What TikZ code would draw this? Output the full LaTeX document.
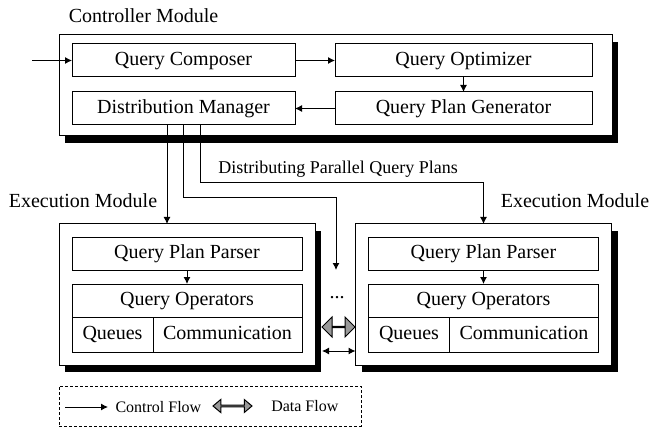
\documentclass[tikz,border=0pt]{standalone}
\usepackage{fontspec}
\setmainfont{Liberation Serif}
\usetikzlibrary{positioning}
\usetikzlibrary{calc}
\usetikzlibrary{shadows}
\usetikzlibrary{shapes.arrows}
\usepgflibrary{arrows.meta}

\tikzset{
  module/.style={draw, fill=white, inner sep=0pt, outer sep=0pt, drop shadow={shadow xshift=3pt, shadow yshift=-3.5pt, fill=black, opacity=1}},
  part/.style={draw, fill=white, inner sep=0pt, outer sep=0pt, minimum height=16.5pt, text height=0.7em, text depth=0.22em, font=\fontsize{10}{12}\selectfont},
  modtitle/.style={inner sep=0pt, font=\fontsize{10}{12}\selectfont},
  flow/.style={draw, -{Latex[length=3.5pt, width=3.5pt]}},
  dataflow/.style={double arrow, draw, fill=gray!80, inner sep=0pt, minimum width=10pt, double arrow head extend=3.25pt},
  legendtext/.style={inner sep=0pt, font=\fontsize{8}{10}\selectfont},
}

\begin{document}
\begin{tikzpicture}[x=0.5pt, y=-0.5pt, line width=0.5pt]
    \useasboundingbox (0, 0) rectangle (663, 427);
    % controller module
    \node[module, minimum width=276.5pt, minimum height=50.5pt] (controller) at (335.5, 85.5) {};
    \node[modtitle] (controllertitle) at (143.5, 16) {Controller Module};
    \node[part, minimum width=111.5pt] (composer) at (183.5, 60.5) {Query Composer};
    \node[part, minimum width=128.5pt] (optimizer) at (463.5, 60.5) {Query Optimizer};
    \node[part, minimum width=128.5pt] (generator) at (463.5, 108.5) {Query Plan Generator};
    \node[part, minimum width=111.5pt] (manager) at (183.5, 108.5) {Distribution Manager};
    \coordinate (input) at (32, 60.5);
    \path[flow] (input) -- (composer);
    \path[flow] (composer) -- (optimizer);
    \path[flow] (optimizer) -- (generator);
    \path[flow] (generator) -- (manager);
    % execution modules
    \foreach \m/\cx/\tx in {L/187/83, R/483.5/575} {
        \node[module, minimum width=128pt, minimum height=70.5pt] (exec\m) at (\cx, 294.5) {};
        \node[modtitle] (exectitle\m) at (\tx, 201) {Execution Module};
        \node[part, minimum width=115pt] (parser\m) at (\cx, 253.5) {Query Plan Parser};
        \node[part, minimum width=115pt] (ops\m) at (\cx, 300.5) {Query Operators};
        \node[part, minimum width=40.5pt, minimum height=17.5pt, anchor=north west] (queues\m) at (ops\m.south west) {Queues};
        \node[part, minimum width=74.5pt, minimum height=17.5pt, anchor=north west] (comm\m) at (queues\m.north east) {Communication};
        \path[flow] (parser\m) -- (ops\m);
    }
    % distribution of the plans
    \path[flow] ([xshift=-8.25pt]manager.south) coordinate (planL) -- (planL |- execL.north);
    \coordinate (dotsin) at (336, 270);
    \path[flow] (manager.south) -- ++(0, 73) -| (dotsin);
    \path[flow] ([xshift=8.25pt]manager.south) -- ++(0, 58) -| (execR.north);
    \node[modtitle, font=\fontsize{9}{11}\selectfont] (planlabel) at (338, 169) {Distributing Parallel Query Plans};
    \node[modtitle] (dots) at (337, 298) {...};
    % data exchange
    \node[dataflow, minimum height=16.5pt] (exchange) at (338.5, 327) {};
    \coordinate (linkstart) at (322, 351);
    \path[draw, {Latex[length=3.5pt, width=3.5pt]}-{Latex[length=3.5pt, width=3.5pt]}] (linkstart) -- (linkstart -| execR.west);
    % legend
    \node[draw, dash pattern=on 1.5pt off 1pt, inner sep=0pt, minimum width=151pt, minimum height=20pt] (legend) at (210, 406) {};
    \coordinate (cfstart) at (65, 407);
    \path[flow] (cfstart) -- ++(43, 0) coordinate (cfend);
    \node[legendtext, anchor=west] (cflabel) at ([xshift=3.5pt]cfend) {Control Flow};
    \node[dataflow, minimum height=19.5pt, minimum width=6.5pt, double arrow head extend=1.5pt, double arrow tip angle=80] (dfarrow) at (232.5, 406) {};
    \node[legendtext, right=9pt of dfarrow] (dflabel) {Data Flow};
\end{tikzpicture}
\end{document}
